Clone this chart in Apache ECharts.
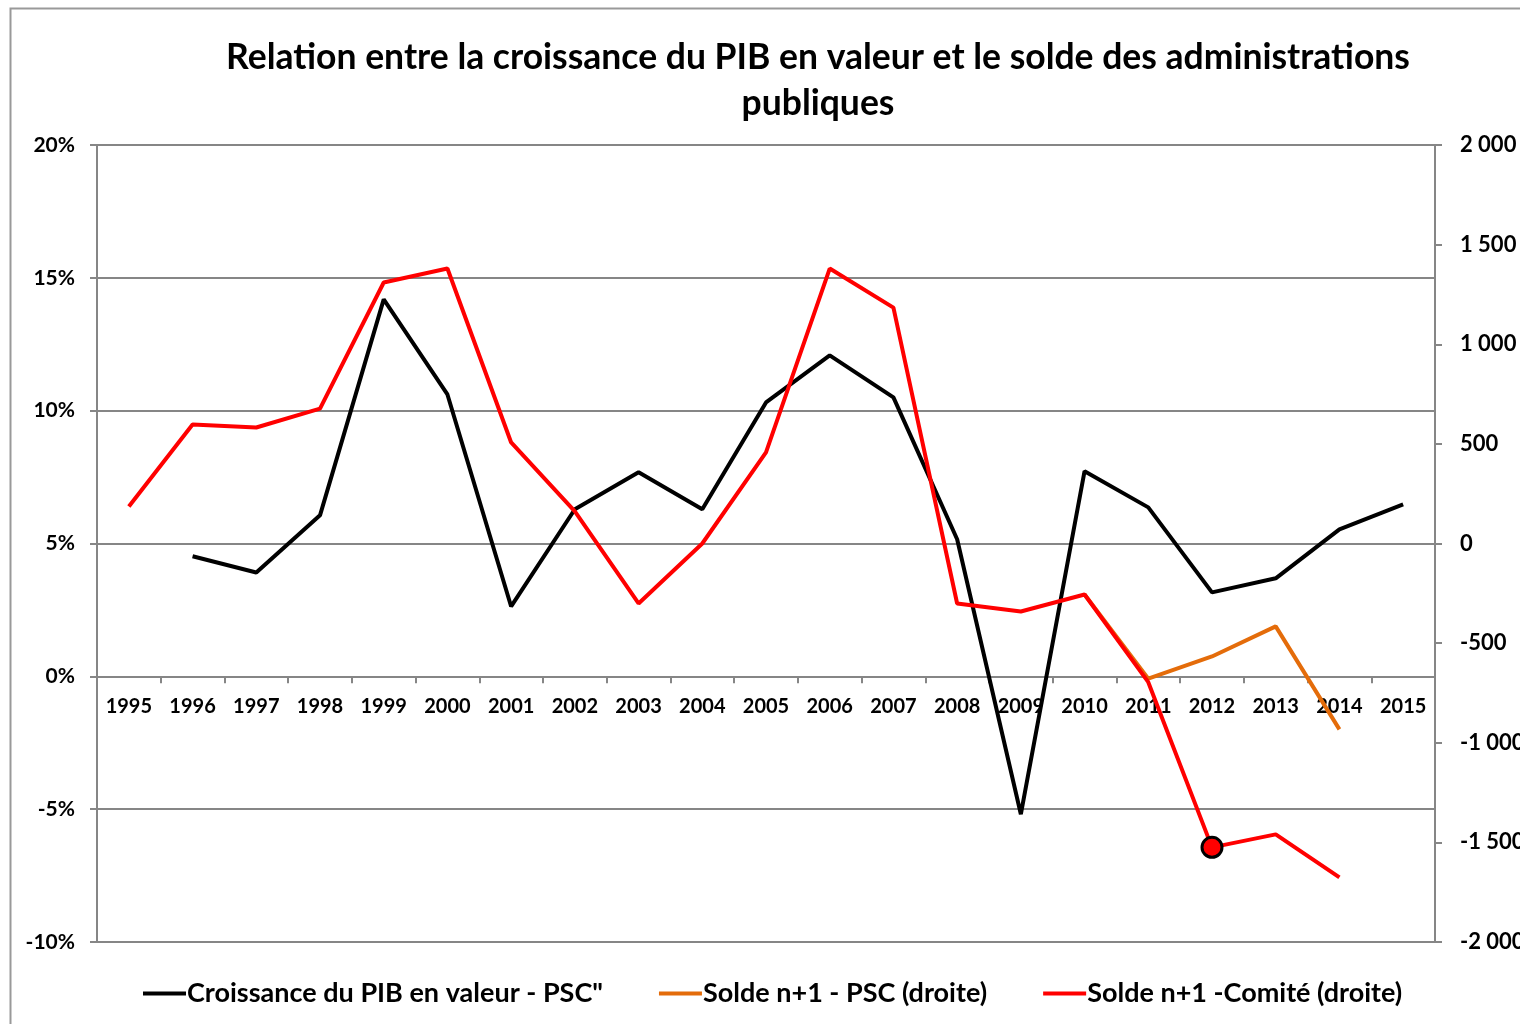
<!DOCTYPE html>
<html>
<head>
<meta charset="utf-8">
<script src="https://cdn.jsdelivr.net/npm/echarts@6/dist/echarts.min.js"></script>
<style>
html,body{margin:0;padding:0;background:#fff;}
#chart{width:1520px;height:1024px;}
</style>
</head>
<body>
<div id="chart"></div>
<script>
const years = ['1995','1996','1997','1998','1999','2000','2001','2002','2003','2004','2005','2006','2007','2008','2009','2010','2011','2012','2013','2014','2015'];
const pibGrowth = [null, 4.52, 3.91, 6.06, 14.19, 10.61, 2.63, 6.29, 7.68, 6.29, 10.31, 12.08, 10.50, 5.16, -5.19, 7.72, 6.36, 3.16, 3.69, 5.53, 6.47];
const soldePSC = [null, null, null, null, null, null, null, null, null, null, null, null, null, null, null, -256, -678, -567, -416, -933, null];
const soldeComite = [186, 597, 582, 677, 1310, 1380, 507, 161, -301, 0, 457, 1380, 1184, -301, -341, -256, -696, -1525, -1460, -1676, null];
const highlightYear = '2012';
const leftTicks = [-10, -5, 0, 5, 10, 15, 20];
const rightTicks = [-2000, -1500, -1000, -500, 0, 500, 1000, 1500, 2000];
const seriesNames = ['Croissance du PIB en valeur - PSC"', 'Solde n+1 - PSC (droite)', 'Solde n+1 -Comité (droite)'];

const FONT = 'Lato, "Open Sans", sans-serif';
const GRAY = '#868686';
const GRID_TOP = 145, GRID_BOTTOM_Y = 942;
const LEFT_MIN = -10, LEFT_MAX = 20;
// move the category axis up to the 0% line of the left axis
const zeroOffset = -(GRID_BOTTOM_Y - GRID_TOP) * (0 - LEFT_MIN) / (LEFT_MAX - LEFT_MIN);

function fmtThousands(v) {
  const s = Math.abs(v).toString().replace(/\B(?=(\d{3})+(?!\d))/g, ' ');
  return (v < 0 ? '-' : '') + s;
}

const comiteData = soldeComite.map((v, i) => years[i] === highlightYear ?
  { value: v, symbol: 'circle', symbolSize: 20, itemStyle: { color: '#ff0000', borderColor: '#000', borderWidth: 3 } } : v);

const chart = echarts.init(document.getElementById('chart'));
chart.setOption({
  animation: false,
  backgroundColor: '#fff',
  graphic: [{
    type: 'rect', shape: { x: 10.5, y: 8.5, width: 1600, height: 1100 },
    style: { fill: 'none', stroke: '#999', lineWidth: 2 }, silent: true, z: -10
  }],
  title: {
    text: 'Relation entre la croissance du PIB en valeur et le solde des administrations\npubliques',
    left: 813, top: 30, textAlign: 'center',
    textStyle: { fontFamily: FONT, fontWeight: 'bold', fontSize: 35.5, lineHeight: 46, color: '#000' }
  },
  grid: { left: 97, right: 85, top: GRID_TOP, bottom: 1024 - GRID_BOTTOM_Y, containLabel: false, outerBoundsMode: 'none' },
  legend: {
    bottom: 17, left: 143, itemGap: 56, itemWidth: 43, itemHeight: 4, padding: 0,
    icon: 'rect',
    data: seriesNames,
    textStyle: { fontFamily: FONT, fontWeight: 'bold', fontSize: 27, color: '#000', padding: [0, 0, 0, -4] }
  },
  xAxis: {
    type: 'category', data: years, boundaryGap: true, position: 'bottom', offset: zeroOffset,
    axisLine: { onZero: false, lineStyle: { color: GRAY, width: 2 } },
    axisTick: { show: true, length: 7, lineStyle: { color: GRAY, width: 2 } },
    axisLabel: { fontFamily: FONT, fontWeight: 'bold', fontSize: 20, color: '#000', margin: 20, interval: 0 }
  },
  yAxis: [{
    type: 'value', min: LEFT_MIN, max: LEFT_MAX, interval: 5, position: 'left',
    axisLine: { show: true, lineStyle: { color: GRAY, width: 2 } },
    axisTick: { show: true, length: 7, lineStyle: { color: GRAY, width: 2 } },
    splitLine: { show: true, lineStyle: { color: GRAY, width: 2 } },
    axisLabel: { fontFamily: FONT, fontWeight: 'bold', fontSize: 21, color: '#000', margin: 22,
      formatter: v => leftTicks.includes(v) ? v + '%' : '' }
  }, {
    type: 'value', min: -2000, max: 2000, interval: 500, position: 'right',
    axisLine: { show: true, lineStyle: { color: GRAY, width: 2 } },
    axisTick: { show: true, length: 7, lineStyle: { color: GRAY, width: 2 } },
    splitLine: { show: false },
    axisLabel: { fontFamily: FONT, fontWeight: 'bold', fontSize: 22, color: '#000', margin: 25,
      formatter: v => rightTicks.includes(v) ? fmtThousands(v) : '' }
  }],
  series: [{
    name: seriesNames[0], type: 'line', yAxisIndex: 0, data: pibGrowth,
    showSymbol: false, symbol: 'none', connectNulls: false,
    lineStyle: { color: '#000', width: 4 }, itemStyle: { color: '#000' }, z: 3
  }, {
    name: seriesNames[1], type: 'line', yAxisIndex: 1, data: soldePSC,
    showSymbol: false, symbol: 'none',
    lineStyle: { color: '#e46c0a', width: 4 }, itemStyle: { color: '#e46c0a' }, z: 4
  }, {
    name: seriesNames[2], type: 'line', yAxisIndex: 1, data: comiteData,
    showSymbol: true, symbol: 'none',
    lineStyle: { color: '#ff0000', width: 4 }, itemStyle: { color: '#ff0000' }, z: 5
  }]
});
</script>
</body>
</html>
